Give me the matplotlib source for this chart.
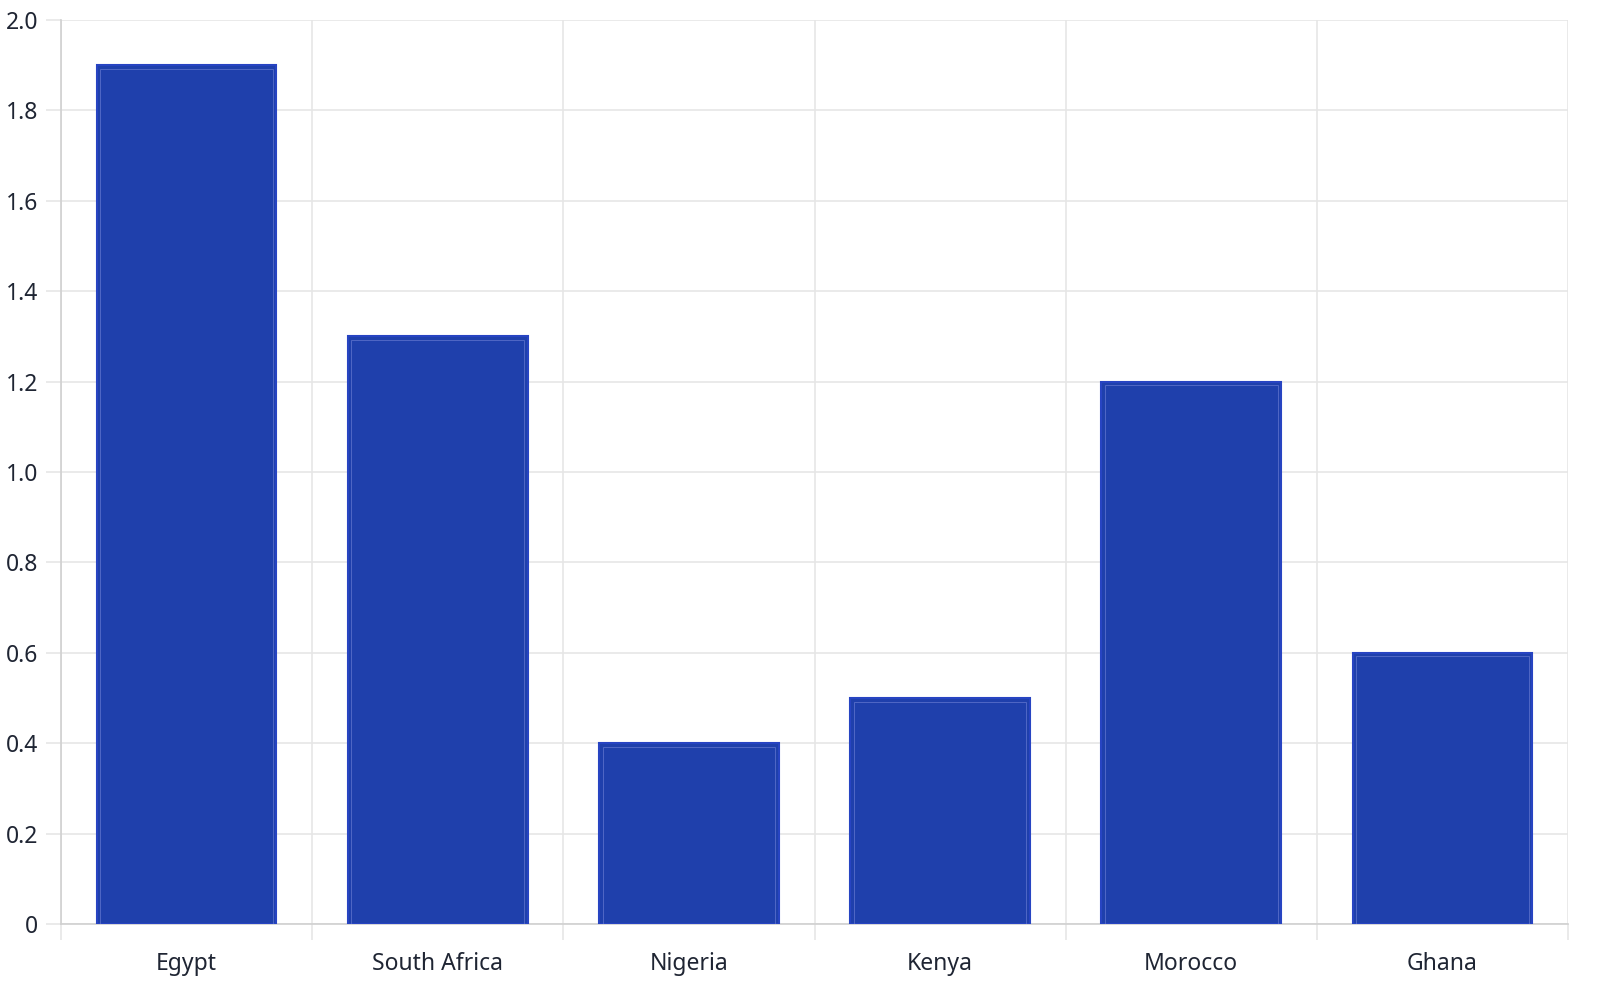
import matplotlib
matplotlib.use("Agg")
import matplotlib.pyplot as plt
import numpy as np

categories = ["Egypt", "South Africa", "Nigeria", "Kenya", "Morocco", "Ghana"]
values = [1.9, 1.3, 0.4, 0.5, 1.2, 0.6]
yticks = [0, 0.2, 0.4, 0.6, 0.8, 1.0, 1.2, 1.4, 1.6, 1.8, 2.0]
ytick_labels = ["0", "0.2", "0.4", "0.6", "0.8", "1.0", "1.2", "1.4", "1.6", "1.8", "2.0"]

plt.rcParams['font.family'] = ['Noto Sans', 'DejaVu Sans']

fig = plt.figure(figsize=(16, 10), dpi=100)
ax = fig.add_axes([61/1600, 1 - 924/1000, (1568-61)/1600, (924-20)/1000])

x = np.arange(len(categories))
width = 0.715
ax.bar(x, values, width=width, color="#1f40ac", edgecolor="#2744c2", linewidth=1.5, zorder=3)
inset_w = 0.014
inset_h = 0.008
ax.bar(x, [v - inset_h for v in values], width=width - 2*inset_w, facecolor="none",
       edgecolor="#5c72cc", linewidth=0.7, alpha=0.8, zorder=4)

ax.set_xlim(-0.5, len(categories) - 0.5)
ax.set_ylim(0, 2.0)
ax.set_yticks(yticks)
ax.set_yticklabels(ytick_labels)
ax.set_xticks(x)
ax.set_xticklabels(categories)
ax.set_xticks(np.arange(len(categories) + 1) - 0.5, minor=True)

ax.grid(axis="y", color="#e6e6e6", linewidth=1.2, zorder=0)
ax.grid(axis="x", which="minor", color="#e6e6e6", linewidth=1.2, zorder=0)
ax.grid(axis="x", which="major", visible=False)

for s in ["top", "right"]:
    ax.spines[s].set_visible(False)
ax.spines["left"].set_color("#d0d0d0")
ax.spines["bottom"].set_color("#d0d0d0")
ax.spines["left"].set_linewidth(1.2)
ax.spines["bottom"].set_linewidth(1.2)

ax.tick_params(axis="y", which="major", length=11, color="#e6e6e6", width=1.2,
               labelsize=16.5, labelcolor="#1f2533", pad=5.5)
ax.tick_params(axis="x", which="major", length=0, labelsize=16.5, labelcolor="#1f2533", pad=20)
ax.tick_params(axis="x", which="minor", length=11.5, color="#e6e6e6", width=1.2)

fig.savefig("out.png", dpi=100, facecolor="white")
